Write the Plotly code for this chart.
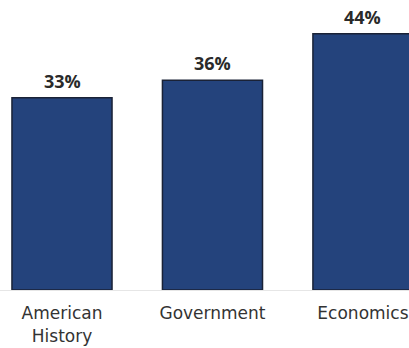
import plotly.graph_objects as go

categories = ["American<br>History", "Government", "Economics"]
values = [33, 36, 44]
labels = ["33%", "36%", "44%"]

fig = go.Figure(go.Bar(
    x=categories,
    y=values,
    marker=dict(color="#24437c", line=dict(color="#1a2236", width=1.5)),
    width=0.665,
))

for c, v, t in zip(categories, values, labels):
    fig.add_annotation(
        x=c, y=v, text=t, showarrow=False,
        yanchor="bottom", yshift=3,
        font=dict(family="Open Sans", size=18, color="#2a2a2a", weight="bold"),
    )

fig.update_layout(
    width=409, height=348,
    margin=dict(l=0, r=0, t=0, b=58),
    paper_bgcolor="white", plot_bgcolor="white",
    showlegend=False,
    xaxis=dict(
        range=[-0.412, 2.306],
        showline=True, linecolor="#e6e6e6", linewidth=1,
        tickfont=dict(family="DejaVu Sans", size=17, color="#333333"),
        ticks="", showgrid=False, ticklabelstandoff=8,
    ),
    yaxis=dict(range=[0, 49.8], visible=False, showgrid=False),
)

fig.write_html("out.html")
